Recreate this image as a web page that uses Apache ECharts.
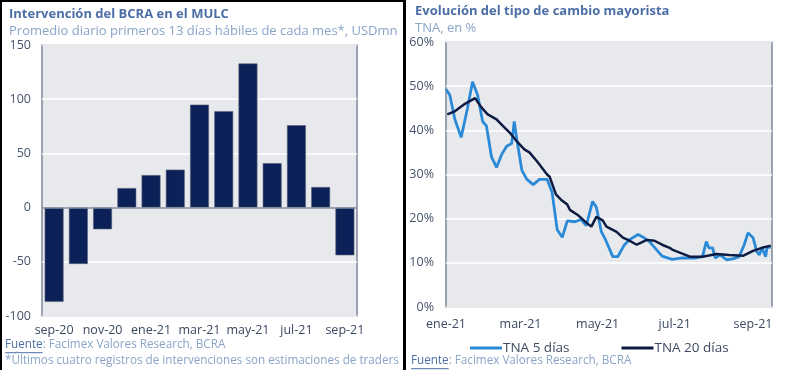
<!DOCTYPE html>
<html>
<head>
<meta charset="utf-8">
<script src="https://cdn.jsdelivr.net/npm/echarts@6/dist/echarts.min.js"></script>
<style>html,body{margin:0;padding:0;background:#fff}#c{width:800px;height:370px}</style>
</head>
<body>
<div id="c"></div>
<script>
// Left chart data
const barMonths = ['sep-20','oct-20','nov-20','dic-20','ene-21','feb-21','mar-21','abr-21','may-21','jun-21','jul-21','ago-21','sep-21'];
const barValues = [-87, -52, -20, 18, 30, 35, 95, 89, 133, 41, 76, 19, -44];
const leftYTicks = {min: -100, max: 150, interval: 50};

// Right chart data
const tna5Dates = ['2021-01-01','2021-01-04','2021-01-08','2021-01-13','2021-01-18','2021-01-22','2021-01-26','2021-01-30','2021-02-02','2021-02-06','2021-02-10','2021-02-14','2021-02-18','2021-02-22','2021-02-24','2021-02-26','2021-03-02','2021-03-06','2021-03-11','2021-03-16','2021-03-22','2021-03-26','2021-03-30','2021-04-03','2021-04-07','2021-04-13','2021-04-18','2021-04-22','2021-04-27','2021-04-30','2021-05-04','2021-05-07','2021-05-13','2021-05-17','2021-05-22','2021-05-26','2021-06-02','2021-06-06','2021-06-11','2021-06-15','2021-06-21','2021-06-29','2021-07-07','2021-07-18','2021-07-23','2021-07-26','2021-07-28','2021-07-31','2021-08-02','2021-08-06','2021-08-11','2021-08-16','2021-08-21','2021-08-25','2021-08-28','2021-09-01','2021-09-04','2021-09-06','2021-09-08','2021-09-11','2021-09-12','2021-09-15'];
const tna5Values = [49.3,48,42.5,38.4,45,51,48,42,41,34,31.6,34.5,36.4,37,42,38,31,28.9,27.7,28.9,28.9,25.9,17.5,15.8,19.5,19.3,19.8,18.4,23.9,22.6,17,15.4,11.4,11.4,14,15.2,16.4,15.8,14.8,13.5,11.5,10.8,11.1,11.1,11.4,14.8,13.4,13.4,11.1,11.8,10.7,10.9,11.4,14.1,16.8,15.7,12.5,11.8,13.4,11.4,13.4,13.6];
const tna20Dates = ['2021-01-02','2021-01-08','2021-01-16','2021-01-24','2021-01-29','2021-02-03','2021-02-10','2021-02-15','2021-02-21','2021-02-27','2021-03-04','2021-03-08','2021-03-14','2021-03-22','2021-03-24','2021-03-29','2021-04-02','2021-04-07','2021-04-09','2021-04-15','2021-04-22','2021-04-26','2021-04-30','2021-05-05','2021-05-08','2021-05-16','2021-05-21','2021-05-25','2021-06-01','2021-06-09','2021-06-15','2021-06-21','2021-06-27','2021-06-29','2021-07-13','2021-07-23','2021-08-03','2021-08-13','2021-08-24','2021-09-01','2021-09-08','2021-09-15'];
const tna20Values = [43.6,44.3,46,47.3,45.2,43.6,42.5,41,39.3,37.2,35.7,35,33,30,29.5,25.5,24.3,23.2,22,20.9,19.1,18.2,20.4,19.6,18.2,17,15.7,15.2,14.1,15.2,15,14.1,13.4,13,11.4,11.4,12,11.8,11.6,12.7,13.4,13.9];
const rightXTickDates = ['2021-01-01','2021-03-01','2021-05-01','2021-07-01','2021-09-01'];
const rightXTickLabels = ['ene-21','mar-21','may-21','jul-21','sep-21'];
const rightXRange = ['2021-01-01','2021-09-16'];
const rightYTicks = {min: 0, max: 60, interval: 10};
const seriesNames = ['TNA 5 días','TNA 20 días'];

// day number (days since 2021-01-01, timezone independent)
const DAY0 = Date.UTC(2021, 0, 1);
function dn(s){ const p = s.split('-').map(Number); return Math.round((Date.UTC(p[0], p[1]-1, p[2]) - DAY0) / 86400000); }
const tickDays = rightXTickDates.map(dn);

const FONT = '"Open Sans", "Noto Sans", sans-serif';
const axisTxt = '#44536b';
const plotBg = '#e8e9ed';
const plotBorder = '#7d889c';
const srcBlue = '#4c6ea6';
const lightBlue = '#8aa4c8';
const FOOT = 11.7;

const mctx = document.createElement('canvas').getContext('2d');
function tw(text, size){ mctx.font = size + 'px ' + FONT; return mctx.measureText(text).width; }

function footSource(x, y){
  const w = tw('Fuente', FOOT);
  return [
    {type: 'text', x: x, y: y, style: {text: 'Fuente', fontSize: FOOT, fontFamily: FONT, fill: srcBlue}},
    {type: 'line', shape: {x1: x, y1: y + FOOT + 2, x2: x + w, y2: y + FOOT + 2}, style: {stroke: srcBlue, lineWidth: 1}},
    {type: 'text', x: x + w, y: y, style: {text: ': Facimex Valores Research, BCRA', fontSize: FOOT, fontFamily: FONT, fill: lightBlue}}
  ];
}

const chart = echarts.init(document.getElementById('c'), null, {renderer: 'canvas'});
chart.setOption({
  animation: false,
  backgroundColor: '#ffffff',
  textStyle: {fontFamily: FONT},
  title: [
    {text: 'Intervención del BCRA en el MULC', subtext: 'Promedio diario primeros 13 días hábiles de cada mes*, USDmn',
     left: 4, top: 3, itemGap: 4,
     textStyle: {fontSize: 13, fontWeight: 'bold', color: srcBlue, fontFamily: FONT},
     subtextStyle: {fontSize: 13, color: lightBlue, fontFamily: FONT}},
    {text: 'Evolución del tipo de cambio mayorista', subtext: 'TNA, en %',
     left: 410, top: 0, itemGap: 4,
     textStyle: {fontSize: 13, fontWeight: 'bold', color: srcBlue, fontFamily: FONT},
     subtextStyle: {fontSize: 13, color: lightBlue, fontFamily: FONT}}
  ],
  legend: {
    data: seriesNames, left: 465, top: 336, itemGap: 52, itemWidth: 32, itemHeight: 3,
    icon: 'rect',
    textStyle: {fontSize: 13.5, color: '#3e4b62', fontFamily: FONT, padding: [0, 0, 0, -4]}
  },
  grid: [
    {left: 42, right: 443, top: 45, bottom: 54, show: true, backgroundColor: plotBg, borderColor: plotBorder, borderWidth: 1.5},
    {left: 446, right: 28, top: 42, bottom: 63, show: true, backgroundColor: plotBg, borderColor: plotBorder, borderWidth: 1.5}
  ],
  xAxis: [
    {type: 'category', gridIndex: 0, data: barMonths,
     axisLine: {show: false, onZero: false}, axisTick: {show: false},
     axisLabel: {interval: 1, color: '#3a4860', fontSize: 12.5, margin: 8}},
    {type: 'value', gridIndex: 1, min: dn(rightXRange[0]), max: dn(rightXRange[1]),
     axisLine: {show: false, onZero: false}, axisTick: {show: false}, splitLine: {show: false},
     axisLabel: {customValues: tickDays, color: '#3a4860', fontSize: 12.5, margin: 11,
       formatter: function(v){ const i = tickDays.indexOf(Math.round(v)); return i >= 0 ? rightXTickLabels[i] : ''; }}}
  ],
  yAxis: [
    {type: 'value', gridIndex: 0, min: leftYTicks.min, max: leftYTicks.max, interval: leftYTicks.interval,
     axisLine: {show: false}, axisTick: {show: false},
     axisLabel: {color: axisTxt, fontSize: 12.5, margin: 11},
     splitLine: {lineStyle: {color: '#ffffff', width: 1.5}}},
    {type: 'value', gridIndex: 1, min: rightYTicks.min, max: rightYTicks.max, interval: rightYTicks.interval,
     axisLine: {show: false}, axisTick: {show: false},
     axisLabel: {color: axisTxt, fontSize: 12.5, margin: 12, formatter: '{value}%'},
     splitLine: {lineStyle: {color: '#ffffff', width: 1.5}}}
  ],
  series: [
    {type: 'bar', xAxisIndex: 0, yAxisIndex: 0, data: barValues, barCategoryGap: '22%',
     itemStyle: {color: '#0b2157', borderColor: '#5a6478', borderWidth: 0.6},
     markLine: {silent: true, symbol: 'none', label: {show: false},
       lineStyle: {color: '#7d889c', type: 'solid', width: 1.5}, data: [{yAxis: 0}]}},
    {name: seriesNames[0], type: 'line', xAxisIndex: 1, yAxisIndex: 1, showSymbol: false, symbol: 'none',
     data: tna5Dates.map((d, i) => [dn(d), tna5Values[i]]),
     lineStyle: {color: '#2a8ad8', width: 2.8}, itemStyle: {color: '#2a8ad8'}, z: 2},
    {name: seriesNames[1], type: 'line', xAxisIndex: 1, yAxisIndex: 1, showSymbol: false, symbol: 'none',
     data: tna20Dates.map((d, i) => [dn(d), tna20Values[i]]),
     lineStyle: {color: '#0e1c44', width: 2.5}, itemStyle: {color: '#0e1c44'}, z: 3}
  ],
  graphic: [
    {type: 'line', shape: {x1: 1, y1: 0, x2: 1, y2: 370}, style: {stroke: '#000', lineWidth: 2}},
    {type: 'line', shape: {x1: 0, y1: 1, x2: 405, y2: 1}, style: {stroke: '#000', lineWidth: 2}},
    {type: 'line', shape: {x1: 404.5, y1: 0, x2: 404.5, y2: 370}, style: {stroke: '#000', lineWidth: 3}}
  ].concat(footSource(5, 339), [
    {type: 'text', x: 5, y: 355, style: {text: '*Últimos cuatro registros de intervenciones son estimaciones de traders', fontSize: FOOT, fontFamily: FONT, fill: lightBlue}}
  ], footSource(411, 355))
});
</script>
</body>
</html>
